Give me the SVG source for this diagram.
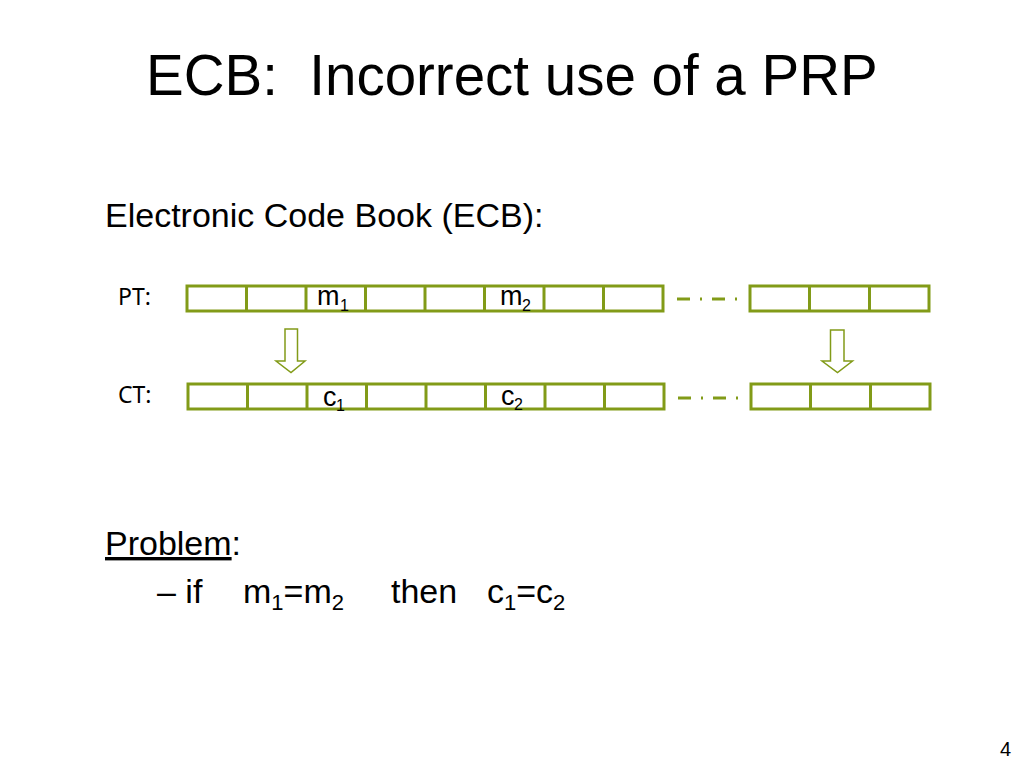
<svg xmlns="http://www.w3.org/2000/svg" width="1024" height="768" viewBox="0 0 1024 768">
<style>
.t{font-family:"Liberation Sans",Arial,sans-serif;fill:#000}
.lbl{font-family:"Noto Sans","Liberation Sans",sans-serif;font-size:23px;fill:#000}
.cell{fill:#fff;stroke:#829B18;stroke-width:3}
.div{stroke:#829B18;stroke-width:3}
.dd{stroke:#829B18;stroke-width:3;stroke-dasharray:13 10 2 10;fill:none}
.arr{fill:#fff;stroke:#829B18;stroke-width:1.5}
.sub{font-size:16px}
</style>
<rect width="1024" height="768" fill="#fff"/>
<text class="t" x="146" y="95" font-size="56.5" xml:space="preserve" style="white-space:pre">ECB:  Incorrect use of a PRP</text>
<text class="t" x="105" y="227" font-size="34">Electronic Code Book (ECB):</text>

<g id="pt-row">
<text class="lbl" x="118" y="305">PT:</text>
<rect class="cell" x="187" y="286" width="476" height="25"/>
<path class="div" d="M246.5 286V311M306 286V311M365.5 286V311M425 286V311M484.5 286V311M544 286V311M603.5 286V311"/>
<text class="t" x="317" y="305" font-size="27">m</text><text class="t sub" x="340" y="311">1</text>
<text class="t" x="500" y="305" font-size="27">m</text><text class="t sub" x="522" y="311">2</text>
</g>
<g id="pt-row-end">
<rect class="cell" x="750" y="286" width="179" height="25"/>
<path class="div" d="M809.5 286V311M869.5 286V311"/>
</g>

<g id="ct-row">
<text class="lbl" x="118" y="403">CT:</text>
<rect class="cell" x="188" y="384" width="476" height="25"/>
<path class="div" d="M247.5 384V409M307 384V409M366.5 384V409M426 384V409M485.5 384V409M545 384V409M604.5 384V409"/>
<text class="t" x="323" y="406" font-size="27">c</text><text class="t sub" x="336" y="411">1</text>
<text class="t" x="501" y="405" font-size="27">c</text><text class="t sub" x="514" y="410">2</text>
</g>
<g id="ct-row-end">
<rect class="cell" x="751" y="384" width="179" height="25"/>
<path class="div" d="M810.5 384V409M870.5 384V409"/>
</g>

<g id="connectors">
<line class="dd" x1="677" y1="299" x2="740" y2="299"/>
<line class="dd" x1="678" y1="398" x2="740" y2="398"/>
<path class="arr" d="M285 329H297.5V361H305L291 372.5L276 361H285Z"/>
<path class="arr" d="M830.5 330H844V361H852.5L837.5 372.5L822 361H830.5Z"/>
</g>

<g id="problem">
<text class="t" x="105" y="555" font-size="34"><tspan text-decoration="underline">Problem</tspan>:</text>
<text class="t" x="157" y="603" font-size="34">– if</text>
<text class="t" x="243" y="603" font-size="34">m<tspan font-size="22" dy="7">1</tspan><tspan dy="-7">=m</tspan><tspan font-size="22" dy="7">2</tspan></text>
<text class="t" x="391" y="603" font-size="34">then</text>
<text class="t" x="487" y="603" font-size="34">c<tspan font-size="22" dy="7">1</tspan><tspan dy="-7">=c</tspan><tspan font-size="22" dy="7">2</tspan></text>
</g>
<text class="t" x="1000" y="756" font-size="20">4</text>
</svg>
